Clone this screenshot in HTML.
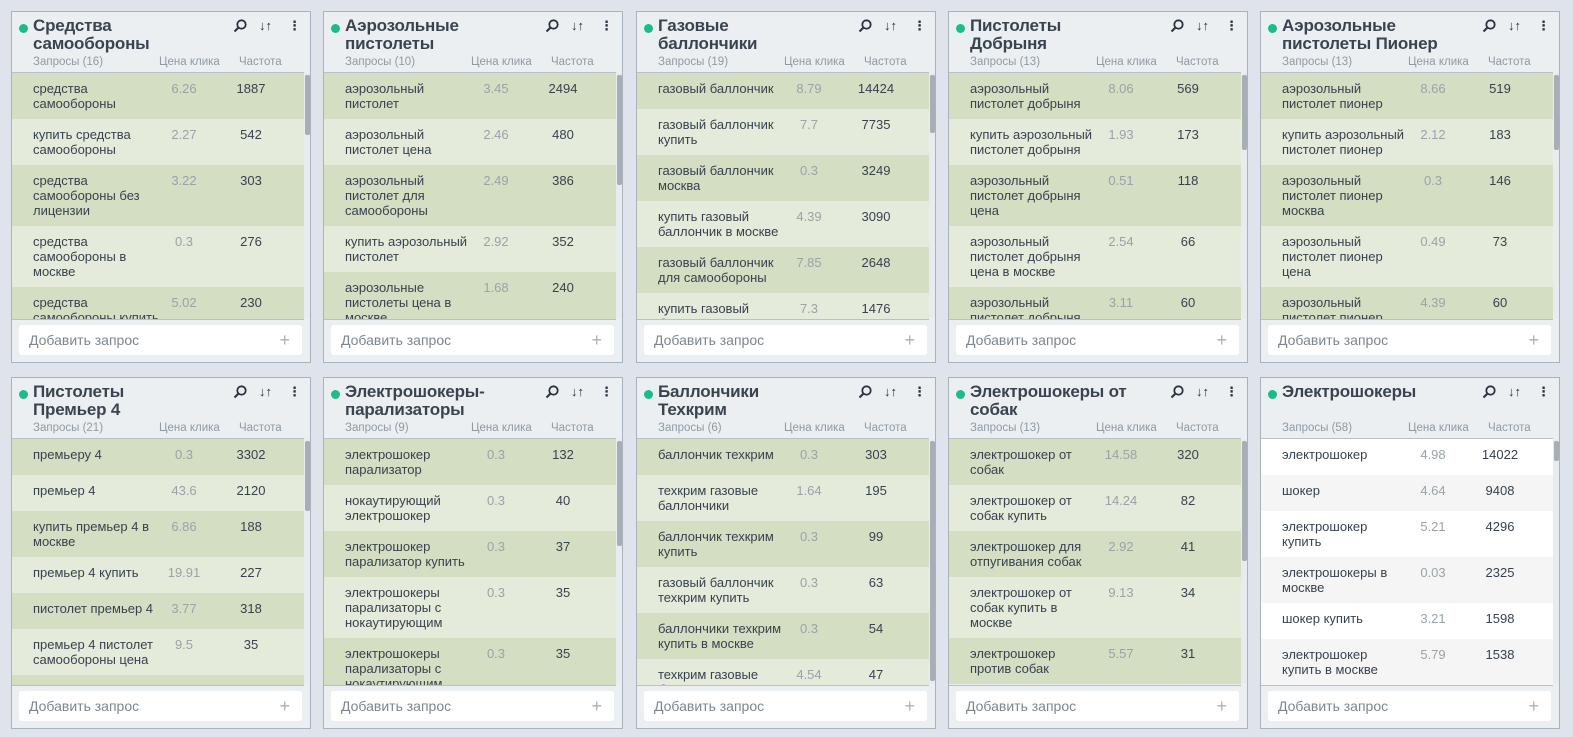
<!DOCTYPE html>
<html><head><meta charset="utf-8"><style>
body{margin:0;width:1573px;height:737px;background:#dfe4ec;font-family:"Liberation Sans","DejaVu Sans",sans-serif;position:relative;overflow:hidden}
.c{position:absolute;width:298px;height:350px;border:1px solid #a9b3bd;background:#eceff1}
.dot{position:absolute;left:7px;top:12px;width:9px;height:9px;border-radius:50%;background:#1abc8c}
.t{position:absolute;left:21px;top:5px;font-size:17px;line-height:18px;font-weight:bold;color:#3a4450;letter-spacing:-0.2px}
.ic{position:absolute;top:6px;font-size:13px;color:#2a3340;font-weight:bold}
.h{position:absolute;top:44px;font-size:11.5px;color:#8f9aa3}
.l{position:absolute;left:0;top:60px;width:292px;height:246px;overflow:hidden;border-top:1px solid #b8c0c8;border-bottom:1px solid #b8c0c8}
.sb{position:absolute;left:292px;top:61px;width:6px;height:245px;background:#e9ecee}
.th{position:absolute;left:1px;width:5px;background:#a8aeb5;border-radius:2px}
.r{position:relative;box-sizing:border-box;padding:8px 0 8px 21px;min-height:36px;font-size:13px;line-height:15px;color:#38424e;white-space:nowrap}
.a{background:#d3dec3}.b{background:#e4ebda}
.w .a{background:#fff}.w .b{background:#f5f5f5}
.p{position:absolute;left:142px;width:60px;text-align:center;top:8px;color:#9aa3a8}
.f{position:absolute;left:209px;width:60px;text-align:center;top:8px;color:#38424e}
.in{position:absolute;left:7px;top:313px;width:283px;height:30px;background:#fff;border-radius:3px;font-size:14px;color:#7d868e;line-height:30px;box-sizing:border-box;padding-left:10px}
.in span{position:absolute;right:12px;top:0;font-size:18px;color:#a9b1b8}
.s{position:absolute;left:221px;top:7px}
</style></head><body>

<div class="c" style="left:11px;top:11px"><div class="dot"></div><div class="t">Средства<br>самообороны</div><svg class="s" width="14" height="14"><circle cx="8.5" cy="5.5" r="4.2" fill="none" stroke="#2a3340" stroke-width="1.8"/><line x1="5.5" y1="8.5" x2="1.5" y2="12.5" stroke="#2a3340" stroke-width="2"/></svg><div class="ic" style="left:247px">↓↑</div><div class="ic" style="left:276px">⋮</div><div class="h" style="left:21px">Запросы (16)</div><div class="h" style="left:147px">Цена клика</div><div class="h" style="left:227px">Частота</div>
<div class="l"><div class="r a">средства<br>самообороны<span class="p">6.26</span><span class="f">1887</span></div><div class="r b">купить средства<br>самообороны<span class="p">2.27</span><span class="f">542</span></div><div class="r a">средства<br>самообороны без<br>лицензии<span class="p">3.22</span><span class="f">303</span></div><div class="r b">средства<br>самообороны в<br>москве<span class="p">0.3</span><span class="f">276</span></div><div class="r a">средства<br>самообороны купить<span class="p">5.02</span><span class="f">230</span></div></div>
<div class="sb"><div class="th" style="top:2px;height:60px"></div></div><div class="in">Добавить запрос<span>+</span></div></div>

<div class="c" style="left:323px;top:11px"><div class="dot"></div><div class="t">Аэрозольные<br>пистолеты</div><svg class="s" width="14" height="14"><circle cx="8.5" cy="5.5" r="4.2" fill="none" stroke="#2a3340" stroke-width="1.8"/><line x1="5.5" y1="8.5" x2="1.5" y2="12.5" stroke="#2a3340" stroke-width="2"/></svg><div class="ic" style="left:247px">↓↑</div><div class="ic" style="left:276px">⋮</div><div class="h" style="left:21px">Запросы (10)</div><div class="h" style="left:147px">Цена клика</div><div class="h" style="left:227px">Частота</div>
<div class="l"><div class="r a">аэрозольный<br>пистолет<span class="p">3.45</span><span class="f">2494</span></div><div class="r b">аэрозольный<br>пистолет цена<span class="p">2.46</span><span class="f">480</span></div><div class="r a">аэрозольный<br>пистолет для<br>самообороны<span class="p">2.49</span><span class="f">386</span></div><div class="r b">купить аэрозольный<br>пистолет<span class="p">2.92</span><span class="f">352</span></div><div class="r a">аэрозольные<br>пистолеты цена в<br>москве<span class="p">1.68</span><span class="f">240</span></div></div>
<div class="sb"><div class="th" style="top:2px;height:110px"></div></div><div class="in">Добавить запрос<span>+</span></div></div>

<div class="c" style="left:636px;top:11px"><div class="dot"></div><div class="t">Газовые<br>баллончики</div><svg class="s" width="14" height="14"><circle cx="8.5" cy="5.5" r="4.2" fill="none" stroke="#2a3340" stroke-width="1.8"/><line x1="5.5" y1="8.5" x2="1.5" y2="12.5" stroke="#2a3340" stroke-width="2"/></svg><div class="ic" style="left:247px">↓↑</div><div class="ic" style="left:276px">⋮</div><div class="h" style="left:21px">Запросы (19)</div><div class="h" style="left:147px">Цена клика</div><div class="h" style="left:227px">Частота</div>
<div class="l"><div class="r a">газовый баллончик<span class="p">8.79</span><span class="f">14424</span></div><div class="r b">газовый баллончик<br>купить<span class="p">7.7</span><span class="f">7735</span></div><div class="r a">газовый баллончик<br>москва<span class="p">0.3</span><span class="f">3249</span></div><div class="r b">купить газовый<br>баллончик в москве<span class="p">4.39</span><span class="f">3090</span></div><div class="r a">газовый баллончик<br>для самообороны<span class="p">7.85</span><span class="f">2648</span></div><div class="r b">купить газовый<br>баллончик<span class="p">7.3</span><span class="f">1476</span></div></div>
<div class="sb"><div class="th" style="top:2px;height:58px"></div></div><div class="in">Добавить запрос<span>+</span></div></div>

<div class="c" style="left:948px;top:11px"><div class="dot"></div><div class="t">Пистолеты<br>Добрыня</div><svg class="s" width="14" height="14"><circle cx="8.5" cy="5.5" r="4.2" fill="none" stroke="#2a3340" stroke-width="1.8"/><line x1="5.5" y1="8.5" x2="1.5" y2="12.5" stroke="#2a3340" stroke-width="2"/></svg><div class="ic" style="left:247px">↓↑</div><div class="ic" style="left:276px">⋮</div><div class="h" style="left:21px">Запросы (13)</div><div class="h" style="left:147px">Цена клика</div><div class="h" style="left:227px">Частота</div>
<div class="l"><div class="r a">аэрозольный<br>пистолет добрыня<span class="p">8.06</span><span class="f">569</span></div><div class="r b">купить аэрозольный<br>пистолет добрыня<span class="p">1.93</span><span class="f">173</span></div><div class="r a">аэрозольный<br>пистолет добрыня<br>цена<span class="p">0.51</span><span class="f">118</span></div><div class="r b">аэрозольный<br>пистолет добрыня<br>цена в москве<span class="p">2.54</span><span class="f">66</span></div><div class="r a">аэрозольный<br>пистолет добрыня<span class="p">3.11</span><span class="f">60</span></div></div>
<div class="sb"><div class="th" style="top:2px;height:75px"></div></div><div class="in">Добавить запрос<span>+</span></div></div>

<div class="c" style="left:1260px;top:11px"><div class="dot"></div><div class="t">Аэрозольные<br>пистолеты Пионер</div><svg class="s" width="14" height="14"><circle cx="8.5" cy="5.5" r="4.2" fill="none" stroke="#2a3340" stroke-width="1.8"/><line x1="5.5" y1="8.5" x2="1.5" y2="12.5" stroke="#2a3340" stroke-width="2"/></svg><div class="ic" style="left:247px">↓↑</div><div class="ic" style="left:276px">⋮</div><div class="h" style="left:21px">Запросы (13)</div><div class="h" style="left:147px">Цена клика</div><div class="h" style="left:227px">Частота</div>
<div class="l"><div class="r a">аэрозольный<br>пистолет пионер<span class="p">8.66</span><span class="f">519</span></div><div class="r b">купить аэрозольный<br>пистолет пионер<span class="p">2.12</span><span class="f">183</span></div><div class="r a">аэрозольный<br>пистолет пионер<br>москва<span class="p">0.3</span><span class="f">146</span></div><div class="r b">аэрозольный<br>пистолет пионер<br>цена<span class="p">0.49</span><span class="f">73</span></div><div class="r a">аэрозольный<br>пистолет пионер<span class="p">4.39</span><span class="f">60</span></div></div>
<div class="sb"><div class="th" style="top:2px;height:75px"></div></div><div class="in">Добавить запрос<span>+</span></div></div>

<div class="c" style="left:11px;top:377px"><div class="dot"></div><div class="t">Пистолеты<br>Премьер 4</div><svg class="s" width="14" height="14"><circle cx="8.5" cy="5.5" r="4.2" fill="none" stroke="#2a3340" stroke-width="1.8"/><line x1="5.5" y1="8.5" x2="1.5" y2="12.5" stroke="#2a3340" stroke-width="2"/></svg><div class="ic" style="left:247px">↓↑</div><div class="ic" style="left:276px">⋮</div><div class="h" style="left:21px">Запросы (21)</div><div class="h" style="left:147px">Цена клика</div><div class="h" style="left:227px">Частота</div>
<div class="l"><div class="r a">премьеру 4<span class="p">0.3</span><span class="f">3302</span></div><div class="r b">премьер 4<span class="p">43.6</span><span class="f">2120</span></div><div class="r a">купить премьер 4 в<br>москве<span class="p">6.86</span><span class="f">188</span></div><div class="r b">премьер 4 купить<span class="p">19.91</span><span class="f">227</span></div><div class="r a">пистолет премьер 4<span class="p">3.77</span><span class="f">318</span></div><div class="r b">премьер 4 пистолет<br>самообороны цена<span class="p">9.5</span><span class="f">35</span></div><div class="r a">&nbsp;</div></div>
<div class="sb"><div class="th" style="top:2px;height:70px"></div></div><div class="in">Добавить запрос<span>+</span></div></div>

<div class="c" style="left:323px;top:377px"><div class="dot"></div><div class="t">Электрошокеры-<br>парализаторы</div><svg class="s" width="14" height="14"><circle cx="8.5" cy="5.5" r="4.2" fill="none" stroke="#2a3340" stroke-width="1.8"/><line x1="5.5" y1="8.5" x2="1.5" y2="12.5" stroke="#2a3340" stroke-width="2"/></svg><div class="ic" style="left:247px">↓↑</div><div class="ic" style="left:276px">⋮</div><div class="h" style="left:21px">Запросы (9)</div><div class="h" style="left:147px">Цена клика</div><div class="h" style="left:227px">Частота</div>
<div class="l"><div class="r a">электрошокер<br>парализатор<span class="p">0.3</span><span class="f">132</span></div><div class="r b">нокаутирующий<br>электрошокер<span class="p">0.3</span><span class="f">40</span></div><div class="r a">электрошокер<br>парализатор купить<span class="p">0.3</span><span class="f">37</span></div><div class="r b">электрошокеры<br>парализаторы с<br>нокаутирующим<span class="p">0.3</span><span class="f">35</span></div><div class="r a">электрошокеры<br>парализаторы с<br>нокаутирующим<span class="p">0.3</span><span class="f">35</span></div></div>
<div class="sb"><div class="th" style="top:2px;height:105px"></div></div><div class="in">Добавить запрос<span>+</span></div></div>

<div class="c" style="left:636px;top:377px"><div class="dot"></div><div class="t">Баллончики<br>Техкрим</div><svg class="s" width="14" height="14"><circle cx="8.5" cy="5.5" r="4.2" fill="none" stroke="#2a3340" stroke-width="1.8"/><line x1="5.5" y1="8.5" x2="1.5" y2="12.5" stroke="#2a3340" stroke-width="2"/></svg><div class="ic" style="left:247px">↓↑</div><div class="ic" style="left:276px">⋮</div><div class="h" style="left:21px">Запросы (6)</div><div class="h" style="left:147px">Цена клика</div><div class="h" style="left:227px">Частота</div>
<div class="l"><div class="r a">баллончик техкрим<span class="p">0.3</span><span class="f">303</span></div><div class="r b">техкрим газовые<br>баллончики<span class="p">1.64</span><span class="f">195</span></div><div class="r a">баллончик техкрим<br>купить<span class="p">0.3</span><span class="f">99</span></div><div class="r b">газовый баллончик<br>техкрим купить<span class="p">0.3</span><span class="f">63</span></div><div class="r a">баллончики техкрим<br>купить в москве<span class="p">0.3</span><span class="f">54</span></div><div class="r b">техкрим газовые<br>баллончики<span class="p">4.54</span><span class="f">47</span></div></div>
<div class="sb"><div class="th" style="top:2px;height:240px"></div></div><div class="in">Добавить запрос<span>+</span></div></div>

<div class="c" style="left:948px;top:377px"><div class="dot"></div><div class="t">Электрошокеры от<br>собак</div><svg class="s" width="14" height="14"><circle cx="8.5" cy="5.5" r="4.2" fill="none" stroke="#2a3340" stroke-width="1.8"/><line x1="5.5" y1="8.5" x2="1.5" y2="12.5" stroke="#2a3340" stroke-width="2"/></svg><div class="ic" style="left:247px">↓↑</div><div class="ic" style="left:276px">⋮</div><div class="h" style="left:21px">Запросы (13)</div><div class="h" style="left:147px">Цена клика</div><div class="h" style="left:227px">Частота</div>
<div class="l"><div class="r a">электрошокер от<br>собак<span class="p">14.58</span><span class="f">320</span></div><div class="r b">электрошокер от<br>собак купить<span class="p">14.24</span><span class="f">82</span></div><div class="r a">электрошокер для<br>отпугивания собак<span class="p">2.92</span><span class="f">41</span></div><div class="r b">электрошокер от<br>собак купить в<br>москве<span class="p">9.13</span><span class="f">34</span></div><div class="r a">электрошокер<br>против собак<span class="p">5.57</span><span class="f">31</span></div></div>
<div class="sb"><div class="th" style="top:2px;height:120px"></div></div><div class="in">Добавить запрос<span>+</span></div></div>

<div class="c w" style="left:1260px;top:377px"><div class="dot"></div><div class="t">Электрошокеры</div><svg class="s" width="14" height="14"><circle cx="8.5" cy="5.5" r="4.2" fill="none" stroke="#2a3340" stroke-width="1.8"/><line x1="5.5" y1="8.5" x2="1.5" y2="12.5" stroke="#2a3340" stroke-width="2"/></svg><div class="ic" style="left:247px">↓↑</div><div class="ic" style="left:276px">⋮</div><div class="h" style="left:21px">Запросы (58)</div><div class="h" style="left:147px">Цена клика</div><div class="h" style="left:227px">Частота</div>
<div class="l"><div class="r a">электрошокер<span class="p">4.98</span><span class="f">14022</span></div><div class="r b">шокер<span class="p">4.64</span><span class="f">9408</span></div><div class="r a">электрошокер<br>купить<span class="p">5.21</span><span class="f">4296</span></div><div class="r b">электрошокеры в<br>москве<span class="p">0.03</span><span class="f">2325</span></div><div class="r a">шокер купить<span class="p">3.21</span><span class="f">1598</span></div><div class="r b">электрошокер<br>купить в москве<span class="p">5.79</span><span class="f">1538</span></div></div>
<div class="sb"><div class="th" style="top:2px;height:20px"></div></div><div class="in">Добавить запрос<span>+</span></div></div>

</body></html>
